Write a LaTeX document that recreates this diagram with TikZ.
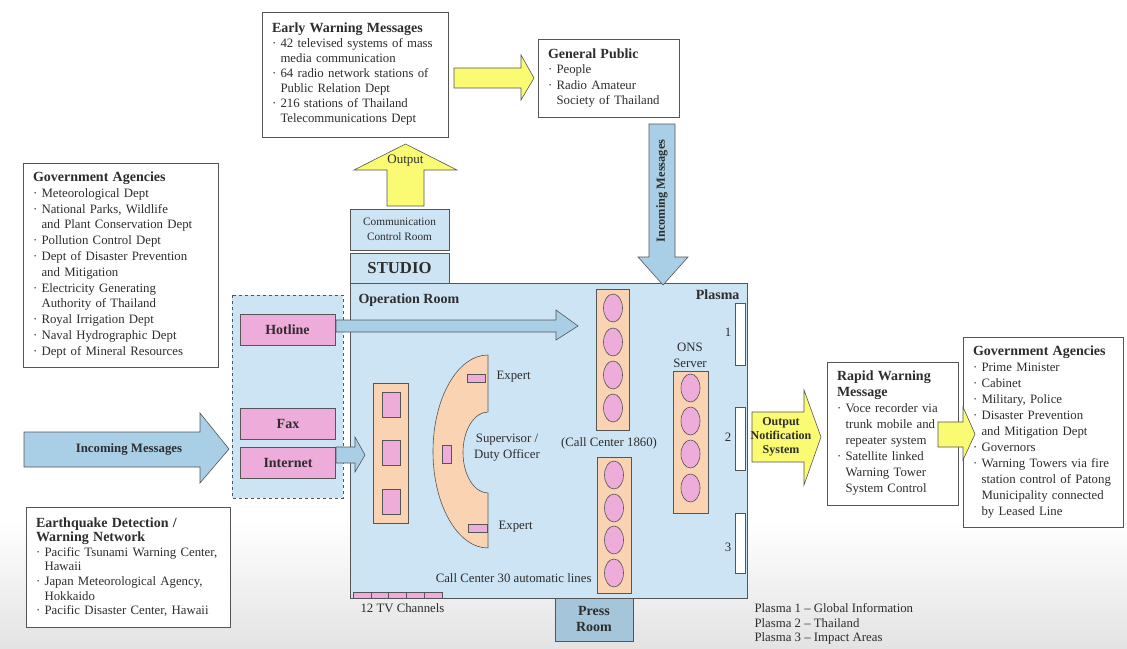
\documentclass[tikz,border=0pt]{standalone}
\usepackage{fontspec}
\setmainfont{Liberation Serif}
\usetikzlibrary{shapes.geometric}
\definecolor{roomblue}{RGB}{205, 228, 244}
\definecolor{arrowblue}{RGB}{168, 207, 230}
\definecolor{pressblue}{RGB}{165, 198, 218}
\definecolor{deskorange}{RGB}{250, 212, 178}
\definecolor{seatpink}{RGB}{238, 172, 218}
\definecolor{signyellow}{RGB}{250, 250, 115}
\definecolor{linegray}{RGB}{85, 85, 85}
\definecolor{inkgray}{RGB}{45, 45, 45}
\newcommand{\dotitem}{·\ }
\newcommand{\dotcont}{\hphantom{·\ }}
\newcommand{\boxtitle}[1]{{\fontsize{14}{15}\selectfont\bfseries #1}}

\begin{document}
\begin{tikzpicture}[
    x=1pt, y=-1pt,
    every node/.style={text=inkgray},
    txt/.style={font=\fontsize{12.8}{#1}\selectfont},
    txt/.default=15.5,
    infobox/.style={draw=linegray, fill=white, line width=0.8pt, align=left,
        inner xsep=10pt, inner ysep=0pt},
    room/.style={draw=linegray, fill=roomblue, line width=0.9pt},
    desk/.style={draw=linegray, fill=deskorange, line width=0.6pt},
    seat/.style={ellipse, draw=linegray, fill=seatpink, line width=0.6pt,
        minimum width=19, minimum height=28, inner sep=0pt},
    pad/.style={draw=linegray, fill=seatpink, line width=0.6pt},
    device/.style={draw=linegray, fill=seatpink, line width=0.8pt,
        minimum width=95, minimum height=31, inner sep=0pt,
        font=\fontsize{14}{15}\selectfont\bfseries},
    yarrow/.style={draw=linegray, fill=signyellow, line width=0.6pt},
    barrow/.style={draw=linegray, fill=arrowblue, line width=0.6pt},
    screen/.style={draw=linegray, fill=white, line width=0.6pt}
]
    \useasboundingbox (0,0) rectangle (1127,648);
    \fill[top color=white, bottom color=black!11] (0,520) rectangle (1127,648);

    % Rooms
    \draw[room] (350,283) rectangle (747,598);
    \draw[room] (350,253) rectangle (449,283);
    \draw[room] (350,209) rectangle (449,250);
    \draw[room, fill=pressblue] (555,598) rectangle (633,641);
    \draw[room, dashed, line width=0.7pt] (232,295) rectangle (343,498);

    \node[font=\fontsize{16.7}{18}\selectfont\bfseries] (studio) at (399.5,268) {STUDIO};
    \node[align=center, font=\fontsize{11.3}{15}\selectfont] (ccroom) at (399.5,229.5) {Communication\\Control Room};
    \node[align=center, font=\fontsize{14}{15.5}\selectfont\bfseries] (press) at (594,619) {Press\\Room};

    % Hotline, fax, internet
    \node[device] (hotline)  at (287.5,329.5) {Hotline};
    \node[device] (fax)      at (288,423.5)   {Fax};
    \node[device] (internet) at (288,463)     {Internet};

    % Desks
    \draw[desk] (373,383) rectangle (408,523);
    \foreach \y in {392, 440, 489}
        \draw[pad] (382,\y) rectangle (400,\y+25);

    \draw[desk] (488,355) arc[start angle=270, end angle=90, x radius=55, y radius=96.5]
        -- (488,493) arc[start angle=90, end angle=270, x radius=25, y radius=40.5] -- cycle;
    \draw[pad] (467,374) rectangle (485,382);
    \draw[pad] (442,445) rectangle (451,463);
    \draw[pad] (468,524) rectangle (487,532);

    \draw[desk] (596,289) rectangle (629,430);
    \draw[desk] (597,457) rectangle (631,593);
    \draw[desk] (673,371) rectangle (708,513);
    \foreach \y [count=\i] in {308, 342, 375, 408}
        \node[seat] (ctop\i) at (613,\y) {};
    \foreach \y [count=\i] in {475, 508, 540, 573}
        \node[seat] (cbot\i) at (614,\y) {};
    \foreach \y [count=\i] in {388, 421, 454, 488}
        \node[seat] (ons\i) at (690.5,\y) {};

    % Plasma screens and TV channels
    \draw[screen] (735,303) rectangle (745,365);
    \draw[screen] (735,407) rectangle (745,470);
    \draw[screen] (735,513) rectangle (745,573);
    \draw[pad] (353,592) rectangle (442,598);
    \foreach \x in {370.8, 388.6, 406.4, 424.2}
        \draw[linegray, line width=0.6pt] (\x,592) -- (\x,598);

    % Room labels
    \node[anchor=west, font=\fontsize{14}{15}\selectfont\bfseries] (oproom) at (355,300) {Operation Room};
    \node[anchor=east, font=\fontsize{14}{15}\selectfont\bfseries] (plasma) at (743,295) {Plasma};
    \node[txt] (p1) at (728,332) {1};
    \node[txt] (p2) at (728,437) {2};
    \node[txt] (p3) at (728,547) {3};
    \node[txt, anchor=west] (expert1) at (493,377) {Expert};
    \node[txt, anchor=west] (expert2) at (495,527) {Expert};
    \node[txt=16, align=center] (duty) at (507,448) {Supervisor /\\Duty Officer};
    \node[txt] (cc1860) at (609,443) {(Call Center 1860)};
    \node[txt, anchor=east] (cc30) at (595,578) {Call Center 30 automatic lines};
    \node[txt=16, align=center] (onslabel) at (690,355) {ONS\\Server};
    \node[txt, anchor=west] (tv) at (357,608) {12 TV Channels};
    \node[txt=14.5, anchor=west, align=left] (legend) at (751,624)
        {Plasma 1 -- Global Information\\Plasma 2 -- Thailand\\Plasma 3 -- Impact Areas};

    % Info boxes
    \node[infobox, txt=15, text width=166, minimum height=125] (ewm) at (355,74.5) {%
        \boxtitle{Early Warning Messages}\\
        \dotitem 42 televised systems of mass\\
        \dotcont media communication\\
        \dotitem 64 radio network stations of\\
        \dotcont Public Relation Dept\\
        \dotitem 216 stations of Thailand\\
        \dotcont Telecommunications Dept};
    \node[infobox, txt=15.5, text width=121, minimum height=78] (public) at (608.5,78) {%
        \boxtitle{General Public}\\
        \dotitem People\\
        \dotitem Radio Amateur\\
        \dotcont Society of Thailand};
    \node[infobox, txt=15.8, text width=175, minimum height=204] (govin) at (120.5,265) {%
        \boxtitle{Government Agencies}\\
        \dotitem Meteorological Dept\\
        \dotitem National Parks, Wildlife\\
        \dotcont and Plant Conservation Dept\\
        \dotitem Pollution Control Dept\\
        \dotitem Dept of Disaster Prevention\\
        \dotcont and Mitigation\\
        \dotitem Electricity Generating\\
        \dotcont Authority of Thailand\\
        \dotitem Royal Irrigation Dept\\
        \dotitem Naval Hydrographic Dept\\
        \dotitem Dept of Mineral Resources};
    \node[infobox, txt=14.6, text width=184, minimum height=120] (quake) at (128,567) {%
        \boxtitle{Earthquake Detection /}\\
        \boxtitle{Warning Network}\\
        \dotitem Pacific Tsunami Warning Center,\\
        \dotcont Hawaii\\
        \dotitem Japan Meteorological Agency,\\
        \dotcont Hokkaido\\
        \dotitem Pacific Disaster Center, Hawaii};
    \node[infobox, txt=16, text width=111, minimum height=143] (rapid) at (892.5,433.5) {%
        \boxtitle{Rapid Warning}\\
        \boxtitle{Message}\\
        \dotitem Voce recorder via\\
        \dotcont trunk mobile and\\
        \dotcont repeater system\\
        \dotitem Satellite linked\\
        \dotcont Warning Tower\\
        \dotcont System Control};
    \node[infobox, txt=16, text width=140, minimum height=190] (govout) at (1043,432) {%
        \boxtitle{Government Agencies}\\
        \dotitem Prime Minister\\
        \dotitem Cabinet\\
        \dotitem Military, Police\\
        \dotitem Disaster Prevention\\
        \dotcont and Mitigation Dept\\
        \dotitem Governors\\
        \dotitem Warning Towers via fire\\
        \dotcont station control of Patong\\
        \dotcont Municipality connected\\
        \dotcont by Leased Line};

    % Block arrows
    \draw[yarrow] (454,68) -- (521,68) -- (521,55) -- (534,78) -- (521,100) -- (521,88) -- (454,88) -- cycle;
    \draw[barrow] (649,124) -- (675,124) -- (675,257) -- (688,257) -- (663,285) -- (638,257) -- (649,257) -- cycle;
    \node[rotate=90, font=\fontsize{12.4}{14}\selectfont\bfseries] (inmsg) at (662,191) {Incoming Messages};
    \draw[yarrow] (387,206) -- (387,170) -- (354,170) -- (405.5,144) -- (457,170) -- (424,170) -- (424,206) -- cycle;
    \node[font=\fontsize{13}{14}\selectfont] (output) at (405.5,161) {Output};
    \draw[barrow] (24,432) -- (200,432) -- (200,413) -- (229,449) -- (200,483) -- (200,467) -- (24,467) -- cycle;
    \node[font=\fontsize{12.8}{14}\selectfont\bfseries] (incoming) at (129,449) {Incoming Messages};
    \draw[barrow] (336,320) -- (556,320) -- (556,310) -- (578,326) -- (556,340) -- (556,332) -- (336,332) -- cycle;
    \draw[barrow] (336,447) -- (355,447) -- (355,437) -- (365,455) -- (355,472) -- (355,463) -- (336,463) -- cycle;
    \draw[yarrow] (752,412) -- (804,412) -- (804,390) -- (821,437) -- (804,485) -- (804,462) -- (752,462) -- cycle;
    \node[align=center, font=\fontsize{12}{14.2}\selectfont\bfseries] (notify) at (781,437) {Output\\Notification\\System};
    \draw[yarrow] (938,422) -- (963,422) -- (963,407) -- (975,434) -- (963,460) -- (963,447) -- (938,447) -- cycle;

\end{tikzpicture}
\end{document}
